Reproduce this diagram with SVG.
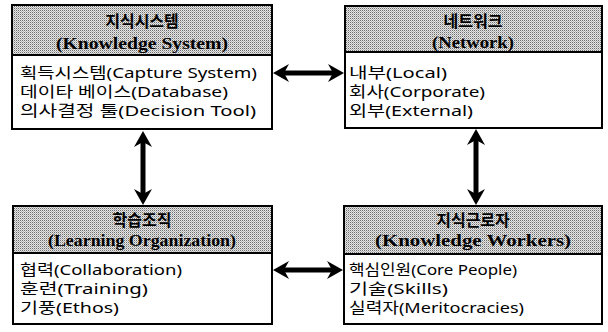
<svg xmlns="http://www.w3.org/2000/svg" width="608" height="332" viewBox="0 0 608 332">
<defs>
<pattern id="stip" width="2" height="2" patternUnits="userSpaceOnUse">
<rect width="2" height="2" fill="#e6e6e6"/>
<rect x="0" y="0" width="1" height="1" fill="#6e6e6e"/>
<rect x="1" y="1" width="1" height="1" fill="#b4b4b4"/>
</pattern>
<marker id="ah" viewBox="0 0 16 18" refX="5" refY="9" markerWidth="16" markerHeight="18" orient="auto-start-reverse" markerUnits="userSpaceOnUse">
<path d="M0,0 L16,9 L0,18 L5,9 z" fill="#000"/>
</marker>
<style>
.box{fill:#fff;stroke:#000;stroke-width:2}
.hdr{fill:url(#stip);stroke:#000;stroke-width:2}
.h1{font-family:"Noto Sans CJK KR",sans-serif;font-weight:bold;font-size:16px;fill:#000;text-anchor:middle}
.h2{font-family:"Liberation Serif","Noto Sans CJK KR",serif;font-weight:bold;font-size:16px;fill:#000;text-anchor:middle}
.b{font-family:"Noto Sans","Noto Sans CJK KR",sans-serif;font-size:15px;fill:#000}
.arr{stroke:#000;stroke-width:5;fill:none}
</style>
</defs>
<g id="knowledge-system">
<rect class="box" x="12" y="5" width="260" height="124"/>
<rect class="hdr" x="12" y="5" width="260" height="50"/>
<text class="h1" x="142" y="27">지식시스템</text>
<text class="h2" x="142" y="49" textLength="172" lengthAdjust="spacingAndGlyphs">(Knowledge System)</text>
<text class="b" x="20" y="78" textLength="237" lengthAdjust="spacingAndGlyphs">획득시스템(Capture System)</text>
<text class="b" x="20" y="97" textLength="208" lengthAdjust="spacingAndGlyphs">데이타 베이스(Database)</text>
<text class="b" x="20" y="116" textLength="236" lengthAdjust="spacingAndGlyphs">의사결정 툴(Decision Tool)</text>
</g>
<g id="network">
<rect class="box" x="345" y="6" width="257" height="122"/>
<rect class="hdr" x="345" y="6" width="257" height="46"/>
<text class="h1" x="473" y="27">네트워크</text>
<text class="h2" x="473" y="48" textLength="82" lengthAdjust="spacingAndGlyphs">(Network)</text>
<text class="b" x="349" y="78" textLength="98" lengthAdjust="spacingAndGlyphs">내부(Local)</text>
<text class="b" x="349" y="97" textLength="136" lengthAdjust="spacingAndGlyphs">회사(Corporate)</text>
<text class="b" x="349" y="116" textLength="124" lengthAdjust="spacingAndGlyphs">외부(External)</text>
</g>
<g id="learning-organization">
<rect class="box" x="13" y="206" width="259" height="118"/>
<rect class="hdr" x="13" y="206" width="259" height="47"/>
<text class="h1" x="142" y="226">학습조직</text>
<text class="h2" x="142" y="246" textLength="188" lengthAdjust="spacingAndGlyphs">(Learning Organization)</text>
<text class="b" x="20" y="275" textLength="162" lengthAdjust="spacingAndGlyphs">협력(Collaboration)</text>
<text class="b" x="20" y="294" textLength="128" lengthAdjust="spacingAndGlyphs">훈련(Training)</text>
<text class="b" x="20" y="313" textLength="99" lengthAdjust="spacingAndGlyphs">기풍(Ethos)</text>
</g>
<g id="knowledge-workers">
<rect class="box" x="344" y="206" width="258" height="118"/>
<rect class="hdr" x="344" y="206" width="258" height="48"/>
<text class="h1" x="473" y="226">지식근로자</text>
<text class="h2" x="473" y="246" textLength="196" lengthAdjust="spacingAndGlyphs">(Knowledge Workers)</text>
<text class="b" x="349" y="275" textLength="168" lengthAdjust="spacingAndGlyphs">핵심인원(Core People)</text>
<text class="b" x="349" y="294" textLength="99" lengthAdjust="spacingAndGlyphs">기술(Skills)</text>
<text class="b" x="349" y="313" textLength="175" lengthAdjust="spacingAndGlyphs">실력자(Meritocracies)</text>
</g>
<g id="connectors">
<line class="arr" x1="284" y1="73" x2="333" y2="73" marker-start="url(#ah)" marker-end="url(#ah)"/>
<line class="arr" x1="284" y1="270" x2="332" y2="270" marker-start="url(#ah)" marker-end="url(#ah)"/>
<line class="arr" x1="143" y1="142" x2="143" y2="194" marker-start="url(#ah)" marker-end="url(#ah)"/>
<line class="arr" x1="476" y1="140" x2="476" y2="194" marker-start="url(#ah)" marker-end="url(#ah)"/>
</g>
</svg>
